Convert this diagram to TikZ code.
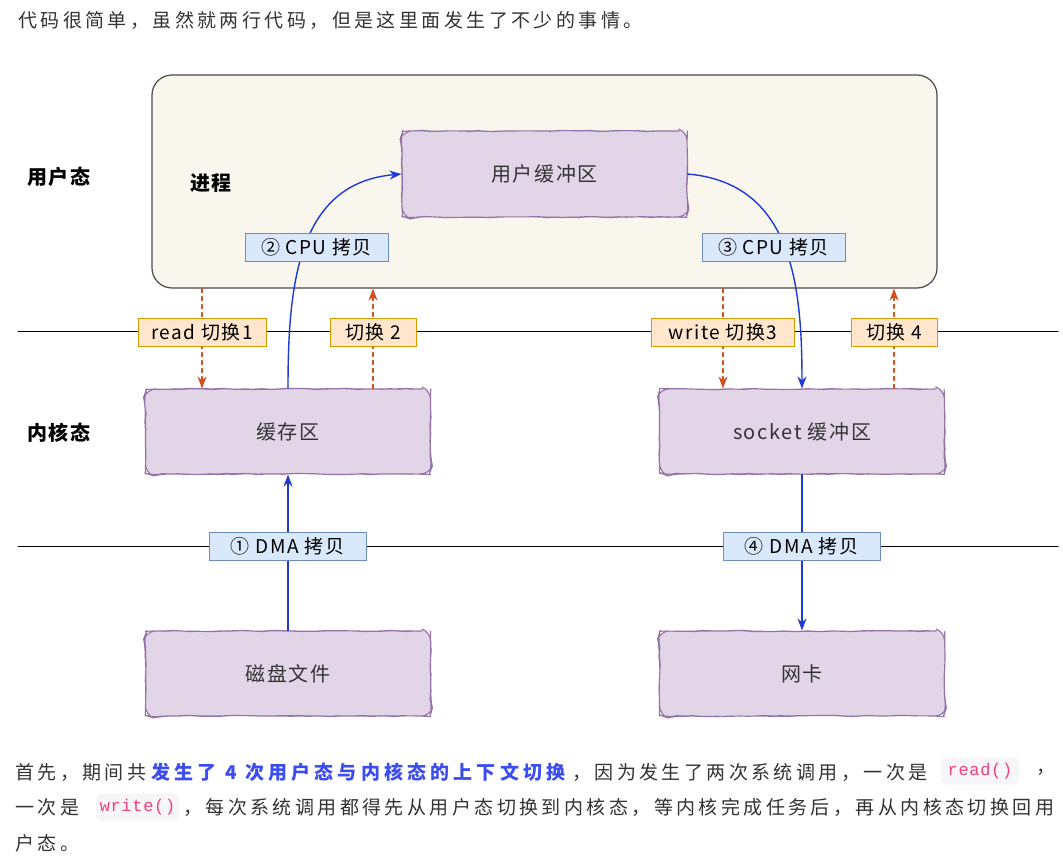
\documentclass[tikz,border=0pt]{standalone}
\usepackage{fontspec}
\setmainfont{Noto Sans CJK SC}
\setmonofont{Liberation Mono}
\newfontfamily\parafont{Noto Sans CJK SC}[LetterSpace=18]
\newfontfamily\keyfont{Noto Sans CJK SC}[LetterSpace=22]
\newfontfamily\diagfont{Noto Sans CJK SC}[LetterSpace=8]
\newfontfamily\codefont{Liberation Mono}[LetterSpace=4]
\usepackage{tikz}
\usetikzlibrary{arrows.meta,decorations.pathmorphing}
\definecolor{txtgray}{HTML}{333333}
\definecolor{procfill}{HTML}{F9F7ED}
\definecolor{procdraw}{HTML}{4A4A4A}
\definecolor{purplefill}{HTML}{E1D5E7}
\definecolor{purpledraw}{HTML}{9673A6}
\definecolor{bluefill}{HTML}{DAE8FC}
\definecolor{bluedraw}{HTML}{6C8EBF}
\definecolor{orangefill}{HTML}{FFE6CC}
\definecolor{orangedraw}{HTML}{D79B00}
\definecolor{copyblue}{HTML}{1F3AD6}
\definecolor{ctxred}{HTML}{D3501E}
\definecolor{boldblue}{HTML}{3B4CF0}
\definecolor{codepink}{HTML}{F0407F}
\definecolor{codebg}{HTML}{F6F6F8}
\pgfdeclarelayer{front}
\pgfsetlayers{main,front}

\begin{document}
\begin{tikzpicture}[line cap=round,line join=round,>={Stealth[length=12pt,width=9pt]},x=1pt,y=-1pt,
	wobbly/.style={decorate,decoration={random steps,segment length=8pt,amplitude=0.6pt}},
	buf/.style={draw=purpledraw,fill=purplefill,line width=1.1pt,rounded corners=9pt,wobbly,minimum width=285pt,minimum height=85pt,font=\fontsize{20}{24}\selectfont\diagfont,text=txtgray},
	cpy/.style={draw=bluedraw,fill=bluefill,line width=0.9pt,minimum height=28pt,inner sep=0pt,font=\fontsize{19}{22}\selectfont\diagfont,text=black},
	swt/.style={draw=orangedraw,fill=orangefill,line width=0.9pt,minimum height=28pt,inner sep=0pt,font=\fontsize{19}{22}\selectfont\diagfont,text=black},
	side/.style={font=\fontsize{20}{24}\selectfont\diagfont\bfseries,text=black},
	para/.style={anchor=west,inner sep=0pt,font=\fontsize{19}{22}\selectfont\parafont,text=txtgray},
	codebox/.style={fill=codebg,rounded corners=5pt,inner sep=0pt,minimum height=27pt,font=\fontsize{17}{20}\selectfont\codefont,text=codepink},
	copyarrow/.style={->,draw=copyblue,line width=1.4pt},
	ctxarrow/.style={->,draw=ctxred,line width=1.2pt,dash pattern=on 4pt off 4pt}]
	\useasboundingbox (0.,0.) rectangle (1063.,864.);
	\fill [white] (0.,0.) rectangle (1063.,864.);
	\node [para] (intro) at (18.,20.) {代码很简单，虽然就两行代码，但是这里面发生了不少的事情。};
	\node [draw=procdraw,fill=procfill,line width=1.2pt,rounded corners=20pt,minimum width=785pt,minimum height=213pt] (proc) at (544.5,181.5) {};
	\node [side] (usr) at (59.,177.) {用户态};
	\node [side] (prc) at (211.,183.) {进程};
	\node [side] (krn) at (59.,433.) {内核态};
	\coordinate (l1w) at (18.,331.);
	\coordinate (l1e) at (1058.,331.);
	\coordinate (l2w) at (18.,546.);
	\coordinate (l2e) at (1058.,546.);
	\draw [line width=1pt] (l1w)-- (l1e);
	\draw [line width=1pt] (l2w)-- (l2e);
	\node [buf,minimum height=86pt] (ubuf) at (544.5,174.) {用户缓冲区};
	\node [buf] (cache) at (288.,431.5) {缓存区};
	\node [buf] (sock) at (802.,431.5) {socket 缓冲区};
	\node [buf] (disk) at (288.,673.5) {磁盘文件};
	\node [buf] (nic) at (802.,673.5) {网卡};
	\begin{pgfonlayer}{front}
	\node [cpy,minimum width=143pt] (cp2) at (316.5,247.) {② CPU 拷贝};
	\node [cpy,minimum width=143pt] (cp3) at (773.5,247.) {③ CPU 拷贝};
	\node [cpy,minimum width=157pt] (cp1) at (287.5,546.) {① DMA 拷贝};
	\node [cpy,minimum width=157pt] (cp4) at (801.5,546.) {④ DMA 拷贝};
	\node [swt,minimum width=128pt] (sw1) at (202.,332.) {read 切换1};
	\node [swt,minimum width=86pt] (sw2) at (373.,332.) {切换 2};
	\node [swt,minimum width=143pt] (sw3) at (723.,332.) {write 切换3};
	\node [swt,minimum width=86pt] (sw4) at (894.,332.) {切换 4};
	\end{pgfonlayer}
	\draw [copyarrow] (disk.north)-- (cache.south);
	\draw [copyarrow] (cache.north) to[out=90,in=185,looseness=1.1] (ubuf.west);
	\draw [copyarrow] (ubuf.east) to[out=-5,in=90,looseness=1.1] (sock.north);
	\draw [copyarrow] (sock.south)-- (nic.north);
	\draw [ctxarrow] (proc.south -| sw1)-- (cache.north -| sw1);
	\draw [ctxarrow] (cache.north -| sw2)-- (proc.south -| sw2);
	\draw [ctxarrow] (proc.south -| sw3)-- (sock.north -| sw3);
	\draw [ctxarrow] (sock.north -| sw4)-- (proc.south -| sw4);
	\node [para] (p1a) at (15.,772.) {首先，期间共};
	\node [para,font=\fontsize{19}{22}\selectfont\keyfont\bfseries,text=boldblue] (p1b) at (151.,772.) {发生了 4 次用户态与内核态的上下文切换};
	\node [para] (p1c) at (572.,772.) {，因为发生了两次系统调用，一次是};
	\node [codebox,minimum width=78pt] (rdc) at (980.,771.) {read()};
	\node [para] (p1d) at (1036.,772.) {，};
	\node [para] (p2a) at (15.,807.) {一次是};
	\node [codebox,minimum width=83pt] (wrc) at (137.5,807.) {write()};
	\node [para] (p2b) at (183.,807.) {，每次系统调用都得先从用户态切换到内核态，等内核完成任务后，再从内核态切换回用};
	\node [para] (p3) at (15.,843.) {户态。};
\end{tikzpicture}
\end{document}
